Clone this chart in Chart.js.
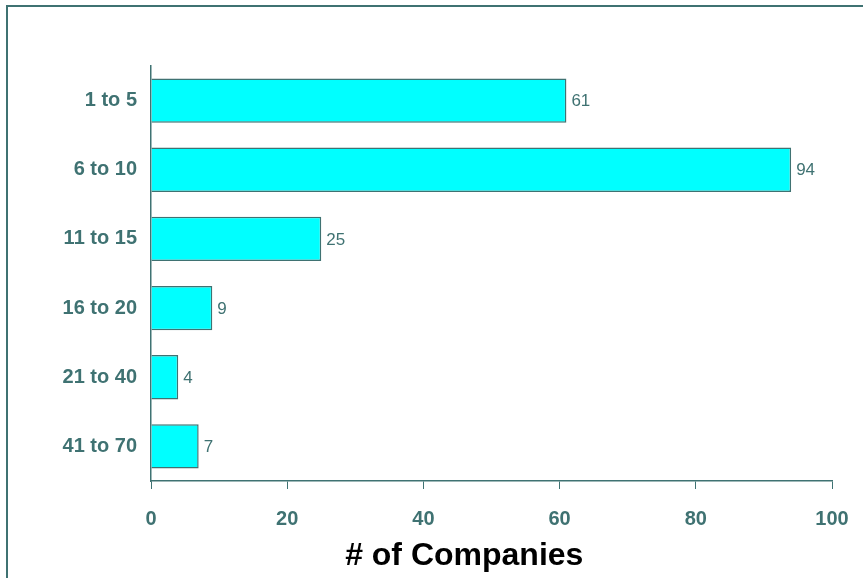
<!DOCTYPE html>
<html>
<head>
<meta charset="utf-8">
<script src="https://cdn.jsdelivr.net/npm/chart.js@4/dist/chart.umd.min.js"></script>
<style>
  html, body { margin: 0; padding: 0; background: #fff; }
  #wrap { position: relative; width: 863px; height: 578px; overflow: hidden; }
  #frame { position: absolute; left: 6px; top: 5px; width: 870px; height: 600px;
           border-top: 2px solid #3f7272; border-left: 2px solid #3f7272; }
  canvas { position: absolute; left: 0; top: 0; }
</style>
</head>
<body>
<div id="wrap">
  <div id="frame"></div>
  <canvas id="c" width="863" height="578"></canvas>
</div>
<script>
const categories = ['1 to 5', '6 to 10', '11 to 15', '16 to 20', '21 to 40', '41 to 70'];
const companies = [61, 94, 25, 9, 4, 7];
const xTicks = [0, 20, 40, 60, 80, 100];
const axisTitle = '# of Companies';

const TEAL = '#3f7272';
const NARROW = "'Liberation Sans Narrow', 'Arial Narrow', 'Liberation Sans', Arial, sans-serif";

const valueLabels = {
  id: 'valueLabels',
  afterDatasetsDraw(chart) {
    const ctx = chart.ctx;
    const meta = chart.getDatasetMeta(0);
    ctx.save();
    ctx.font = "normal 17px " + NARROW;
    ctx.fillStyle = TEAL;
    ctx.textAlign = 'left';
    ctx.textBaseline = 'middle';
    meta.data.forEach((bar, i) => {
      ctx.fillText(String(companies[i]), bar.x + 5, bar.y + 1);
    });
    ctx.restore();
  }
};

// x-axis title, centred slightly left of the axis middle as in the reference
const xTitle = {
  id: 'xTitle',
  afterDraw(chart) {
    const ctx = chart.ctx;
    const xs = chart.scales.x;
    ctx.save();
    ctx.font = "bold 32px 'Liberation Sans', Arial, sans-serif";
    ctx.fillStyle = '#000000';
    ctx.textAlign = 'center';
    ctx.textBaseline = 'middle';
    ctx.fillText(axisTitle, xs.getPixelForValue(46), xs.bottom - 22);
    ctx.restore();
  }
};

Chart.defaults.font.family = NARROW;

new Chart(document.getElementById('c'), {
  type: 'bar',
  data: {
    labels: categories,
    datasets: [{
      data: companies,
      backgroundColor: '#00ffff',
      borderColor: TEAL,
      borderWidth: 1.5,
      barPercentage: 0.64,
      categoryPercentage: 1.0
    }]
  },
  options: {
    indexAxis: 'y',
    responsive: false,
    animation: false,
    devicePixelRatio: 1,
    layout: { padding: { left: 0, top: 66, right: 31, bottom: 0 } },
    plugins: { legend: { display: false }, tooltip: { enabled: false } },
    scales: {
      x: {
        min: 0, max: 100,
        afterBuildTicks(scale) { scale.ticks = xTicks.map(v => ({ value: v })); },
        afterFit(scale) { scale.height = 97; scale.paddingLeft = 0; scale.paddingRight = 0; },
        grid: { drawOnChartArea: false, drawTicks: true, tickLength: 8, color: TEAL, lineWidth: 1 },
        border: { display: true, color: TEAL, width: 1.5 },
        ticks: { color: TEAL, font: { size: 20, weight: 'bold', family: NARROW }, padding: 18, maxRotation: 0 },
        title: { display: false }
      },
      y: {
        afterFit(scale) { scale.width = 151; scale.paddingTop = 0; scale.paddingBottom = 0; },
        grid: { drawOnChartArea: false, drawTicks: false, tickLength: 0, color: TEAL },
        border: { display: true, color: TEAL, width: 1.5 },
        ticks: { color: TEAL, font: { size: 20, weight: 'bold', family: NARROW }, padding: 14 }
      }
    }
  },
  plugins: [valueLabels, xTitle]
});
</script>
</body>
</html>
